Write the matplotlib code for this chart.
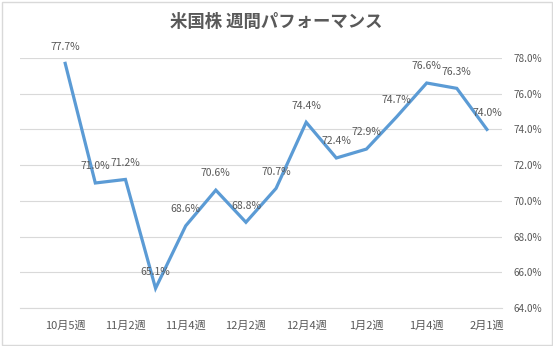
import matplotlib
matplotlib.use("Agg")
import matplotlib.pyplot as plt
from matplotlib.patches import Rectangle

plt.rcParams['font.family'] = ['Noto Sans CJK JP', 'DejaVu Sans']

title = "米国株 週間パフォーマンス"
categories = ["10月5週", "11月1週", "11月2週", "11月3週", "11月4週", "12月1週", "12月2週",
              "12月3週", "12月4週", "1月1週", "1月2週", "1月3週", "1月4週", "1月5週", "2月1週"]
values = [77.7, 71.0, 71.2, 65.1, 68.6, 70.6, 68.8, 70.7, 74.4, 72.4, 72.9, 74.7, 76.6, 76.3, 74.0]
yticks = [64, 66, 68, 70, 72, 74, 76, 78]

W, H = 553, 346
fig = plt.figure(figsize=(W / 100, H / 100), dpi=100)
fig.patches.append(Rectangle((1.5 / W, 1.5 / H), 1 - 3 / W, 1 - 3 / H, transform=fig.transFigure,
                             fill=False, edgecolor='#d9d9d9', linewidth=1.0))

ax = fig.add_axes([20 / W, 1 - 308 / H, (502 - 20) / W, (308 - 58) / H])
x = list(range(len(categories)))
ax.plot(x, values, color='#5B9BD5', linewidth=2.3, solid_joinstyle='miter', zorder=3)

for xi, v in zip(x, values):
    ax.annotate(f"{v:.1f}%", (xi, v), xytext=(0, 12), textcoords='offset points',
                ha='center', va='center', fontsize=7.5, color='#595959', zorder=4)

ax.set_xlim(-1.5, len(categories) - 0.5)
ax.set_ylim(64, 78)
ax.set_yticks(yticks)
ax.set_yticklabels([f"{t:.1f}%" for t in yticks])
ax.yaxis.tick_right()
ax.grid(axis='y', color='#d9d9d9', linewidth=0.8)
ax.set_axisbelow(True)
ax.set_xticks(x[::2])
ax.set_xticklabels(categories[::2])
ax.tick_params(axis='both', length=0, colors='#595959')
ax.tick_params(axis='y', pad=8, labelsize=7.2)
ax.tick_params(axis='x', pad=9, labelsize=8)
for s in ['top', 'left', 'right']:
    ax.spines[s].set_visible(False)
ax.spines['bottom'].set_color('#d9d9d9')
ax.spines['bottom'].set_linewidth(0.8)

fig.text(0.5, 1 - 22 / H, title, ha='center', va='center', fontsize=12.5,
         fontweight='bold', color='#595959')

fig.savefig("out.png", dpi=100)
